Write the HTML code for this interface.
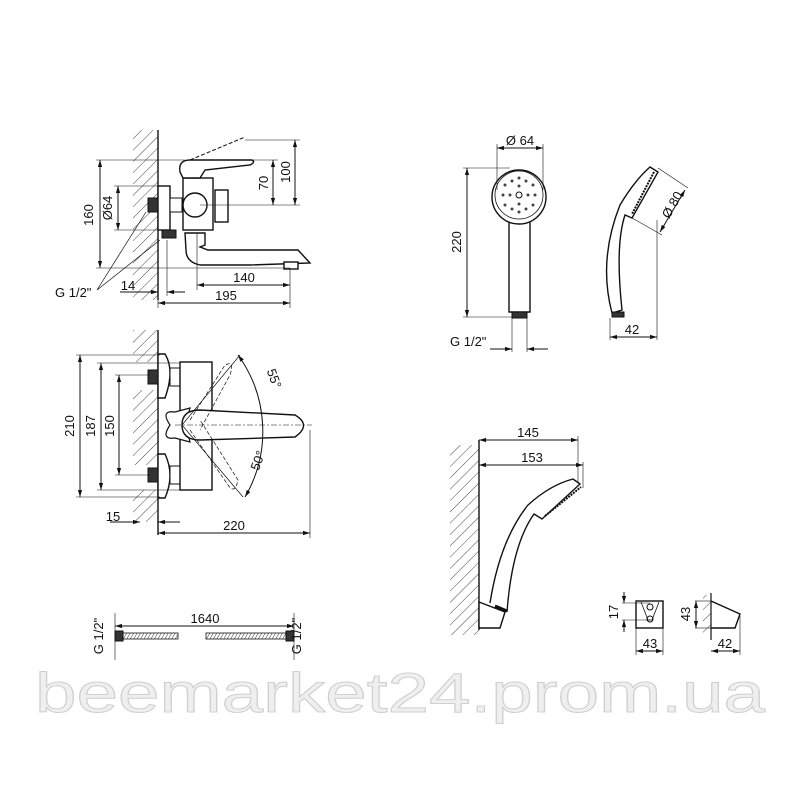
<!DOCTYPE html>
<html><head><meta charset="utf-8"><style>
html,body{margin:0;padding:0;background:#fff;}
svg{display:block;}
text{font-family:"Liberation Sans",sans-serif;fill:#111;}
</style></head><body>
<svg width="800" height="800" viewBox="0 0 800 800" xmlns="http://www.w3.org/2000/svg">
<defs>
<pattern id="h" width="8" height="8" patternUnits="userSpaceOnUse" patternTransform="rotate(45)">
<line x1="0" y1="0" x2="0" y2="8" stroke="#333" stroke-width="0.9"/>
</pattern>
<pattern id="hose" width="3" height="6" patternUnits="userSpaceOnUse" patternTransform="rotate(30)">
<line x1="0" y1="0" x2="0" y2="6" stroke="#333" stroke-width="1"/>
</pattern>
<marker id="a" viewBox="0 0 10 10" refX="10" refY="5" markerWidth="7" markerHeight="7" orient="auto-start-reverse"><path d="M0,2 L10,5 L0,8 z" fill="#111"/></marker>
</defs>
<g stroke="#111" stroke-width="1" fill="none">
<rect x="133" y="130" width="25" height="170" fill="url(#h)" stroke="none"/>
<line x1="158" y1="130" x2="158" y2="300" stroke-width="1.4"/>
<rect x="158" y="186" width="12" height="44" fill="#fff" stroke-width="1.4"/>
<rect x="148" y="198" width="10" height="14" fill="#333"/>
<rect x="162" y="230" width="14" height="8" fill="#333"/>
<rect x="170" y="198" width="12" height="14" fill="#fff"/>
<rect x="183" y="178" width="30" height="52" fill="#fff" stroke-width="1.4"/>
<circle cx="195" cy="205" r="12" fill="#fff" stroke-width="1.4"/>
<rect x="215" y="190" width="13" height="32" fill="#fff" stroke-width="1.4"/>
<path d="M180,172 Q178,160 190,160 L252,160 Q256,162 250,165 L205,170 L200,178 L183,178 Z" fill="#fff" stroke-width="1.4"/>
<path d="M190,160 L245,137" stroke-dasharray="4,2"/>
<path d="M185,233 L205,233 L205,245 L200,247 L208,250 L298,250 L310,263 L250,265 L200,265 Q186,262 186,250 Z" fill="#fff" stroke-width="1.4"/>
<rect x="284" y="262" width="14" height="7" fill="#fff" stroke-width="1.4"/>
<line x1="100" y1="160" x2="100" y2="268" marker-start="url(#a)" marker-end="url(#a)"/>
<line x1="96" y1="160" x2="185" y2="160" stroke-width="0.6"/>
<line x1="96" y1="268" x2="290" y2="268" stroke-width="0.6"/>
<line x1="118" y1="186" x2="118" y2="230" marker-start="url(#a)" marker-end="url(#a)"/>
<line x1="114" y1="186" x2="158" y2="186" stroke-width="0.6"/>
<line x1="114" y1="230" x2="158" y2="230" stroke-width="0.6"/>
<line x1="273" y1="160" x2="273" y2="205" marker-start="url(#a)" marker-end="url(#a)"/>
<line x1="295" y1="140" x2="295" y2="205" marker-start="url(#a)" marker-end="url(#a)"/>
<line x1="245" y1="140" x2="300" y2="140" stroke-width="0.6"/>
<line x1="250" y1="160" x2="278" y2="160" stroke-width="0.6"/>
<line x1="200" y1="205" x2="300" y2="205" stroke-width="0.6"/>
<line x1="197" y1="233" x2="197" y2="290" stroke-width="0.6"/>
<line x1="290" y1="268" x2="290" y2="308" stroke-width="0.6"/>
<line x1="197" y1="285" x2="290" y2="285" marker-start="url(#a)" marker-end="url(#a)"/>
<line x1="158" y1="303" x2="290" y2="303" marker-start="url(#a)" marker-end="url(#a)"/>
<line x1="158" y1="300" x2="158" y2="308" stroke-width="0.6"/>
<line x1="167" y1="240" x2="167" y2="296" stroke-width="0.6"/>
<line x1="120" y1="292" x2="158" y2="292" marker-end="url(#a)"/>
<line x1="185" y1="292" x2="167" y2="292" marker-end="url(#a)"/>
<path d="M97,290 L146,212 M97,290 L160,240" stroke-width="0.7"/>

<rect x="133" y="330" width="25" height="32" fill="url(#h)" stroke="none"/>
<rect x="133" y="390" width="25" height="75" fill="url(#h)" stroke="none"/>
<rect x="133" y="490" width="25" height="32" fill="url(#h)" stroke="none"/>
<line x1="158" y1="330" x2="158" y2="535" stroke-width="1.4"/>
<path d="M158,354 L165,354 Q175,370 165,398 L158,398 Z" fill="#fff" stroke-width="1.4"/>
<path d="M158,454 L165,454 Q175,475 165,498 L158,498 Z" fill="#fff" stroke-width="1.4"/>
<rect x="148" y="370" width="10" height="14" fill="#333"/>
<rect x="148" y="468" width="10" height="14" fill="#333"/>
<rect x="170" y="368" width="10" height="18" fill="#fff"/>
<rect x="170" y="466" width="10" height="18" fill="#fff"/>
<rect x="180" y="362" width="32" height="128" fill="#fff" stroke-width="1.4"/>
<path d="M170,425 Q160,410 175,412 L190,408 Q185,425 190,442 L175,438 Q160,440 170,425 Z" fill="#fff" stroke-width="1.2"/>
<path d="M182,425 Q182,410 200,410 L295,415 Q312,425 295,437 L200,440 Q182,440 182,425 Z" fill="#fff" stroke-width="1.4"/>
<path d="M182,425 L240,355 M182,425 L243,497" stroke-width="0.7"/>
<path d="M238,355 A130,130 0 0 1 245,497" marker-start="url(#a)" marker-end="url(#a)"/>
<path d="M190,420 L225,365 Q235,360 230,375 L200,430" stroke-dasharray="4,2" stroke-width="0.7"/>
<path d="M190,430 L228,485 Q235,495 238,480 L200,420" stroke-dasharray="4,2" stroke-width="0.7"/>
<line x1="175" y1="425" x2="312" y2="425" stroke-dasharray="6,2,2,2" stroke-width="0.6"/>
<line x1="80" y1="355" x2="80" y2="497" marker-start="url(#a)" marker-end="url(#a)"/>
<line x1="76" y1="355" x2="160" y2="355" stroke-width="0.6"/>
<line x1="76" y1="497" x2="160" y2="497" stroke-width="0.6"/>
<line x1="101" y1="363" x2="101" y2="490" marker-start="url(#a)" marker-end="url(#a)"/>
<line x1="97" y1="363" x2="180" y2="363" stroke-width="0.6"/>
<line x1="97" y1="490" x2="180" y2="490" stroke-width="0.6"/>
<line x1="119" y1="375" x2="119" y2="475" marker-start="url(#a)" marker-end="url(#a)"/>
<line x1="115" y1="375" x2="150" y2="375" stroke-width="0.6"/>
<line x1="115" y1="475" x2="150" y2="475" stroke-width="0.6"/>
<line x1="310" y1="430" x2="310" y2="538" stroke-width="0.6"/>
<line x1="158" y1="533" x2="310" y2="533" marker-start="url(#a)" marker-end="url(#a)"/>
<line x1="110" y1="522" x2="140" y2="522" marker-end="url(#a)"/>
<line x1="180" y1="522" x2="158" y2="522" marker-end="url(#a)"/>

<circle cx="519" cy="197" r="27" fill="#fff" stroke-width="1.4"/>
<circle cx="519" cy="195" r="24" stroke-width="0.8"/>
<circle cx="519" cy="195" r="3"/>
<g fill="#444" stroke="none">
<circle cx="505" cy="185" r="1.5"/><circle cx="512" cy="181" r="1.5"/><circle cx="526" cy="181" r="1.5"/><circle cx="533" cy="185" r="1.5"/>
<circle cx="503" cy="195" r="1.5"/><circle cx="510" cy="195" r="1.5"/><circle cx="528" cy="195" r="1.5"/><circle cx="535" cy="195" r="1.5"/>
<circle cx="505" cy="205" r="1.5"/><circle cx="512" cy="209" r="1.5"/><circle cx="526" cy="209" r="1.5"/><circle cx="533" cy="205" r="1.5"/>
<circle cx="519" cy="178" r="1.5"/><circle cx="519" cy="212" r="1.5"/><circle cx="519" cy="186" r="1.5"/><circle cx="519" cy="204" r="1.5"/>
</g>
<path d="M509,222 L509,312 L530,312 L530,222" stroke-width="1.4"/>
<rect x="512" y="312" width="15" height="6" fill="#333"/>
<line x1="497" y1="148" x2="543" y2="148" marker-start="url(#a)" marker-end="url(#a)"/>
<line x1="497" y1="144" x2="497" y2="190" stroke-width="0.6"/>
<line x1="543" y1="144" x2="543" y2="190" stroke-width="0.6"/>
<line x1="467" y1="168" x2="467" y2="317" marker-start="url(#a)" marker-end="url(#a)"/>
<line x1="463" y1="168" x2="510" y2="168" stroke-width="0.6"/>
<line x1="463" y1="317" x2="512" y2="317" stroke-width="0.6"/>
<line x1="512" y1="318" x2="512" y2="352" stroke-width="0.6"/>
<line x1="527" y1="318" x2="527" y2="352" stroke-width="0.6"/>
<line x1="490" y1="349" x2="512" y2="349" marker-end="url(#a)"/>
<line x1="548" y1="349" x2="527" y2="349" marker-end="url(#a)"/>
<path d="M650,167 L658,172 L632,218 L625,215 Q615,245 622,310 L612,313 Q598,260 620,205 Q635,180 650,167 Z" fill="#fff" stroke-width="1.4"/>
<path d="M654,172 L632,214" stroke-dasharray="2,1" stroke-width="2"/>
<rect x="612" y="312" width="12" height="5" fill="#333"/>
<line x1="610" y1="318" x2="610" y2="340" stroke-width="0.6"/>
<line x1="657" y1="220" x2="657" y2="340" stroke-width="0.6"/>
<line x1="610" y1="337" x2="657" y2="337" marker-start="url(#a)" marker-end="url(#a)"/>
<line x1="658" y1="168" x2="688" y2="188" stroke-width="0.6"/>
<line x1="632" y1="218" x2="662" y2="235" stroke-width="0.6"/>
<line x1="685" y1="190" x2="660" y2="232" marker-start="url(#a)" marker-end="url(#a)"/>

<rect x="450" y="445" width="29" height="190" fill="url(#h)" stroke="none"/>
<line x1="479" y1="440" x2="479" y2="630" stroke-width="1.4"/>
<line x1="479" y1="440" x2="578" y2="440" marker-start="url(#a)" marker-end="url(#a)"/>
<line x1="479" y1="465" x2="583" y2="465" marker-start="url(#a)" marker-end="url(#a)"/>
<line x1="578" y1="436" x2="578" y2="482" stroke-width="0.6"/>
<line x1="583" y1="462" x2="583" y2="488" stroke-width="0.6"/>
<path d="M479,602 L505,612 L500,628 L479,628 Z" fill="#fff" stroke-width="1.4"/>
<path d="M490,603 Q500,540 528,505 Q550,485 573,479 L580,484 L542,519 L534,514 Q512,545 507,612" fill="#fff" stroke-width="1.4"/>
<path d="M545,516 L581,487" stroke-dasharray="2,1" stroke-width="2"/>
<path d="M495,606 L507,611" stroke-width="3"/>
<rect x="636" y="601" width="27" height="27" stroke-width="1.4"/>
<path d="M641,602 L648,620 L652,620 L659,602" stroke-width="0.8"/>
<circle cx="650" cy="607" r="3"/><circle cx="650" cy="619" r="3"/>
<line x1="622" y1="603" x2="650" y2="603" stroke-width="0.6"/>
<line x1="622" y1="620" x2="650" y2="620" stroke-width="0.6"/>
<line x1="624" y1="592" x2="624" y2="603" marker-end="url(#a)"/>
<line x1="624" y1="632" x2="624" y2="620" marker-end="url(#a)"/>
<line x1="636" y1="628" x2="636" y2="655" stroke-width="0.6"/>
<line x1="663" y1="628" x2="663" y2="655" stroke-width="0.6"/>
<line x1="636" y1="651" x2="663" y2="651" marker-start="url(#a)" marker-end="url(#a)"/>
<rect x="703" y="595" width="8" height="40" fill="url(#h)" stroke="none"/>
<line x1="711" y1="593" x2="711" y2="640" stroke-width="1.2"/>
<path d="M711,601 L740,614 L735,628 L711,628" stroke-width="1.4"/>
<line x1="695" y1="601" x2="711" y2="601" stroke-width="0.6"/>
<line x1="695" y1="628" x2="711" y2="628" stroke-width="0.6"/>
<line x1="696" y1="601" x2="696" y2="628" marker-start="url(#a)" marker-end="url(#a)"/>
<line x1="740" y1="616" x2="740" y2="655" stroke-width="0.6"/>
<line x1="711" y1="651" x2="740" y2="651" marker-start="url(#a)" marker-end="url(#a)"/>

<line x1="115" y1="613" x2="115" y2="660" stroke-width="0.6"/>
<line x1="294" y1="613" x2="294" y2="660" stroke-width="0.6"/>
<line x1="115" y1="626" x2="294" y2="626" marker-start="url(#a)" marker-end="url(#a)"/>
<rect x="115" y="631" width="8" height="10" fill="#333"/>
<rect x="286" y="631" width="8" height="10" fill="#333"/>
<rect x="123" y="633" width="55" height="6" fill="url(#hose)" stroke-width="0.8"/>
<rect x="206" y="633" width="80" height="6" fill="url(#hose)" stroke-width="0.8"/>
</g>
<g font-size="13">
<text x="93" y="215" transform="rotate(-90 93 215)" text-anchor="middle">160</text>
<text x="112" y="208" transform="rotate(-90 112 208)" text-anchor="middle">Ø64</text>
<text x="268" y="183" transform="rotate(-90 268 183)" text-anchor="middle">70</text>
<text x="290" y="172" transform="rotate(-90 290 172)" text-anchor="middle">100</text>
<text x="244" y="282" text-anchor="middle">140</text>
<text x="226" y="300" text-anchor="middle">195</text>
<text x="128" y="290" text-anchor="middle">14</text>
<text x="55" y="297">G 1/2"</text>
<text x="74" y="426" transform="rotate(-90 74 426)" text-anchor="middle">210</text>
<text x="95" y="426" transform="rotate(-90 95 426)" text-anchor="middle">187</text>
<text x="114" y="426" transform="rotate(-90 114 426)" text-anchor="middle">150</text>
<text x="270" y="380" transform="rotate(70 270 380)" text-anchor="middle">55°</text>
<text x="262" y="462" transform="rotate(-70 262 462)" text-anchor="middle">50°</text>
<text x="113" y="521" text-anchor="middle">15</text>
<text x="234" y="530" text-anchor="middle">220</text>
<text x="520" y="145" text-anchor="middle">Ø 64</text>
<text x="461" y="242" transform="rotate(-90 461 242)" text-anchor="middle">220</text>
<text x="450" y="346">G 1/2"</text>
<text x="632" y="334" text-anchor="middle">42</text>
<text x="676" y="207" transform="rotate(-60 676 207)" text-anchor="middle">Ø 80</text>
<text x="528" y="437" text-anchor="middle">145</text>
<text x="532" y="462" text-anchor="middle">153</text>
<text x="618" y="612" transform="rotate(-90 618 612)" text-anchor="middle">17</text>
<text x="650" y="648" text-anchor="middle">43</text>
<text x="690" y="614" transform="rotate(-90 690 614)" text-anchor="middle">43</text>
<text x="725" y="648" text-anchor="middle">42</text>
<text x="205" y="623" text-anchor="middle">1640</text>
<text x="103" y="636" transform="rotate(-90 103 636)" text-anchor="middle">G 1/2"</text>
<text x="301" y="636" transform="rotate(-90 301 636)" text-anchor="middle">G 1/2"</text>
</g>
<text x="400" y="712" text-anchor="middle" font-size="56" style="fill:#efefef;stroke:#d0d0d0;stroke-width:1" textLength="730" lengthAdjust="spacingAndGlyphs">beemarket24.prom.ua</text>
</svg>
</body></html>
